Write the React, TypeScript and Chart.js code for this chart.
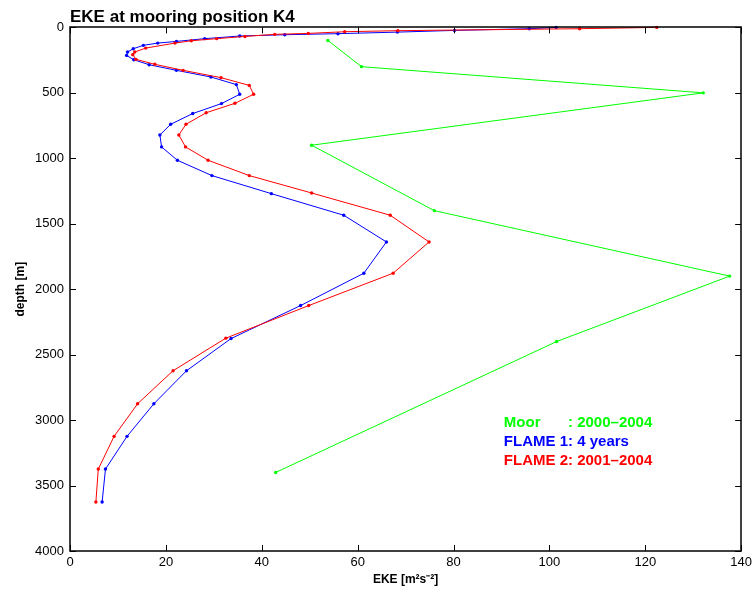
import { useEffect, useRef } from "react";
import { Chart, registerables } from "chart.js";

Chart.register(...registerables);

const TITLE = "EKE at mooring position K4";
const X_LABEL = "EKE [m²s⁻²]";
const Y_LABEL = "depth [m]";
const X_TICKS = [0, 20, 40, 60, 80, 100, 120, 140];
const Y_TICKS = [0, 500, 1000, 1500, 2000, 2500, 3000, 3500, 4000];

// Mooring observations
const moorDepth = [100, 300, 500, 900, 1400, 1900, 2400, 3400];
const moorEke = [53.8, 60.8, 132.1, 50.4, 76.0, 137.6, 101.5, 42.9];

// FLAME 1 (4 years)
const flame1Depth = [
  0, 10, 23, 36, 48, 56, 66, 86, 107, 120, 137, 163, 188, 214, 247, 285, 328, 379, 437, 511,
  582, 658, 740, 822, 913, 1015, 1132, 1270, 1435, 1639, 1878, 2125, 2377, 2623, 2875, 3124,
  3374, 3626,
];
const flame1Eke = [
  101.4, 95.8, 80.2, 68.3, 55.9, 44.8, 35.4, 28.1, 22.2, 18.3, 15.3, 13.2, 12.0, 11.8, 13.3,
  16.5, 22.2, 29.4, 34.7, 35.4, 31.6, 25.6, 21.0, 18.75, 19.1, 22.4, 29.6, 42.0, 57.1, 66.0,
  61.3, 48.1, 33.6, 24.3, 17.5, 11.9, 7.4, 6.7,
];

// FLAME 2 (2001-2004)
const flame2Depth = [
  0, 10, 25, 33, 46, 53, 69, 86, 102, 120, 158, 188, 208, 244, 282, 328, 384, 443, 511, 580,
  652, 740, 822, 913, 1015, 1132, 1265, 1435, 1639, 1878, 2125, 2374, 2623, 2875, 3124, 3374,
  3626,
];
const flame2Eke = [
  122.4, 106.3, 68.4, 57.3, 49.7, 42.7, 36.5, 30.6, 25.3, 21.9, 15.8, 13.5, 13.1, 13.75, 17.7,
  23.6, 31.5, 37.4, 38.3, 34.4, 28.4, 24.2, 22.7, 24.1, 28.8, 37.4, 50.4, 66.8, 74.9, 67.4,
  49.8, 32.5, 21.5, 14.1, 9.2, 5.9, 5.4,
];

const legendNames = ["Moor", "FLAME 1", "FLAME 2"];
const legendPeriods = ["2000–2004", "4 years", "2001–2004"];
const legendColors = ["#00ff00", "#0000ff", "#ff0000"];

const FONT = "'Liberation Sans', Arial, Helvetica, sans-serif";

const framePlugin = {
  id: "frame",
  afterDatasetsDraw(chart: any) {
    const { ctx, chartArea } = chart;
    const xs = chart.scales.x;
    const ys = chart.scales.y;
    const { left, right, top, bottom } = chartArea;
    const tl = 6;
    ctx.save();
    ctx.strokeStyle = "#000";
    ctx.lineWidth = 1;
    ctx.beginPath();
    for (const v of X_TICKS) {
      const px = Math.round(xs.getPixelForValue(v)) + 0.5;
      ctx.moveTo(px, bottom);
      ctx.lineTo(px, bottom - tl);
      ctx.moveTo(px, top);
      ctx.lineTo(px, top + tl);
    }
    for (const v of Y_TICKS) {
      const py = Math.round(ys.getPixelForValue(v)) + 0.5;
      ctx.moveTo(left, py);
      ctx.lineTo(left + tl, py);
      ctx.moveTo(right, py);
      ctx.lineTo(right - tl, py);
    }
    ctx.stroke();
    ctx.lineWidth = 1.5;
    ctx.strokeRect(Math.round(left), Math.round(top), Math.round(right - left), Math.round(bottom - top));
    ctx.restore();
  },
};

const legendPlugin = {
  id: "textLegend",
  afterDraw(chart: any) {
    const { ctx } = chart;
    const xs = chart.scales.x;
    const ys = chart.scales.y;
    const x0 = xs.getPixelForValue(90.5);
    const y0 = ys.getPixelForValue(3053);
    const step = 19;
    ctx.save();
    ctx.font = `bold 15px ${FONT}`;
    ctx.textBaseline = "alphabetic";
    ctx.textAlign = "left";
    let nameW = 0;
    for (let i = 1; i < legendNames.length; i++) {
      nameW = Math.max(nameW, ctx.measureText(legendNames[i]).width);
    }
    legendNames.forEach((name, i) => {
      ctx.fillStyle = legendColors[i];
      const y = y0 + i * step;
      ctx.fillText(name, x0, y);
      ctx.fillText(": " + legendPeriods[i], x0 + nameW, y);
    });
    ctx.restore();
  },
};

export default function App() {
  const ref = useRef<HTMLCanvasElement | null>(null);

  useEffect(() => {
    if (!ref.current) return;
    const mk = (depth: number[], eke: number[]) => depth.map((d, i) => ({ x: eke[i], y: d }));
    const common = {
      showLine: true,
      borderWidth: 1,
      pointRadius: 1.7,
      pointBorderWidth: 0,
      pointHoverRadius: 1.7,
      clip: false as any,
    };
    const chart = new Chart(ref.current, {
      type: "scatter",
      data: {
        datasets: [
          {
            ...common,
            label: "FLAME 2: 2001–2004",
            data: mk(flame2Depth, flame2Eke),
            borderColor: legendColors[2],
            backgroundColor: legendColors[2],
          },
          {
            ...common,
            label: "FLAME 1: 4 years",
            data: mk(flame1Depth, flame1Eke),
            borderColor: legendColors[1],
            backgroundColor: legendColors[1],
          },
          {
            ...common,
            label: "Moor: 2000–2004",
            data: mk(moorDepth, moorEke),
            borderColor: legendColors[0],
            backgroundColor: legendColors[0],
          },
        ],
      },
      options: {
        responsive: false,
        animation: false,
        devicePixelRatio: 1,
        layout: { padding: { left: 0, right: 13, top: 0, bottom: 0 } },
        plugins: {
          legend: { display: false },
          tooltip: { enabled: false },
          title: {
            display: true,
            text: TITLE,
            align: "start",
            fullSize: false,
            color: "#000",
            font: { family: FONT, size: 17, weight: "bold", lineHeight: 1.2 },
            padding: { top: 7, bottom: 0 },
          },
        },
        scales: {
          x: {
            type: "linear",
            min: X_TICKS[0],
            max: X_TICKS[X_TICKS.length - 1],
            afterBuildTicks: (s: any) => {
              s.ticks = X_TICKS.map((v) => ({ value: v }));
            },
            afterFit: (s: any) => {
              s.height = 42;
            },
            grid: { display: false, drawTicks: false },
            border: { display: false },
            ticks: {
              color: "#000",
              padding: 4,
              maxRotation: 0,
              autoSkip: false,
              font: { family: FONT, size: 13 },
              callback: (v: any) => String(v),
            },
            title: {
              display: true,
              text: X_LABEL,
              color: "#000",
              font: { family: FONT, size: 12, weight: "bold" },
              padding: { top: 0, bottom: 6 },
            },
          },
          y: {
            type: "linear",
            reverse: true,
            min: Y_TICKS[0],
            max: Y_TICKS[Y_TICKS.length - 1],
            afterBuildTicks: (s: any) => {
              s.ticks = Y_TICKS.map((v) => ({ value: v }));
            },
            afterFit: (s: any) => {
              s.width = 70;
            },
            grid: { display: false, drawTicks: false },
            border: { display: false },
            ticks: {
              color: "#000",
              padding: 6,
              autoSkip: false,
              font: { family: FONT, size: 13 },
              callback: (v: any) => String(v),
            },
            title: {
              display: true,
              text: Y_LABEL,
              color: "#000",
              font: { family: FONT, size: 12, weight: "bold" },
              padding: { top: 13, bottom: 0 },
            },
          },
        },
      },
      plugins: [framePlugin, legendPlugin],
    });
    return () => chart.destroy();
  }, []);

  return (
    <div style={{ position: "absolute", left: 0, top: 0, width: 756, height: 593, background: "#fff" }}>
      <canvas ref={ref} width={756} height={593} style={{ display: "block" }} />
    </div>
  );
}
